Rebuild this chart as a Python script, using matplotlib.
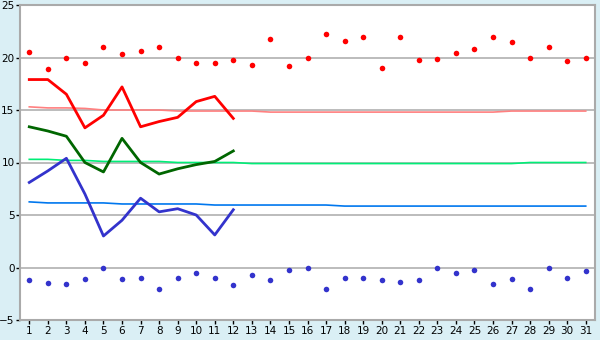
import matplotlib.pyplot as plt

days = list(range(1, 32))
months = list(range(1, 13))

# daily records
rec_max = [20.5, 18.9, 20.0, 19.5, 21.0, 20.3, 20.6, 21.0, 20.0, 19.5,
           19.5, 19.8, 19.3, 21.8, 19.2, 20.0, 22.2, 21.6, 22.0, 19.0,
           22.0, 19.8, 19.9, 20.4, 20.8, 22.0, 21.5, 20.0, 21.0, 19.7, 20.0]
rec_min = [-1.2, -1.5, -1.6, -1.1, 0.0, -1.1, -1.0, -2.0, -1.0, -0.5,
           -1.0, -1.7, -0.7, -1.2, -0.2, 0.0, -2.0, -1.0, -1.0, -1.2,
           -1.4, -1.2, 0.0, -0.5, -0.2, -1.6, -1.1, -2.0, 0.0, -1.0, -0.3]

# monthly series
t_max = [17.9, 17.9, 16.5, 13.3, 14.5, 17.2, 13.4, 13.9, 14.3, 15.8, 16.3, 14.2]
t_mean = [13.4, 13.0, 12.5, 10.0, 9.1, 12.3, 10.0, 8.9, 9.4, 9.8, 10.1, 11.1]
t_min = [8.1, 9.2, 10.4, 7.0, 3.0, 4.5, 6.6, 5.3, 5.6, 5.0, 3.1, 5.5]

# normals
norm_max = [15.3, 15.2, 15.2, 15.15, 15.0, 15.0, 15.0, 15.0, 14.9, 14.9,
            14.9, 14.9, 14.9, 14.8, 14.8, 14.8, 14.8, 14.8, 14.8, 14.8,
            14.8, 14.8, 14.8, 14.8, 14.8, 14.8, 14.9, 14.9, 14.9, 14.9, 14.9]
norm_mean = [10.3, 10.3, 10.2, 10.2, 10.1, 10.1, 10.1, 10.1, 10.0, 10.0,
             10.0, 10.0, 9.9, 9.9, 9.9, 9.9, 9.9, 9.9, 9.9, 9.9,
             9.9, 9.9, 9.9, 9.9, 9.9, 9.9, 9.9, 10.0, 10.0, 10.0, 10.0]
norm_min = [6.25, 6.15, 6.15, 6.15, 6.15, 6.05, 6.05, 6.05, 6.05, 6.05,
            5.95, 5.95, 5.95, 5.95, 5.95, 5.95, 5.95, 5.85, 5.85, 5.85,
            5.85, 5.85, 5.85, 5.85, 5.85, 5.85, 5.85, 5.85, 5.85, 5.85, 5.85]

fig = plt.figure(figsize=(6, 3.4), dpi=100, facecolor='#daeff5')
ax = fig.add_axes([20/600, 1-320/340, 575/600, 315/340])
ax.set_facecolor('white')

for v in range(-5, 26, 5):
    ax.axhline(v, color='#aaaaaa', lw=1.1, zorder=1)

ax.plot(days, norm_max, color='#ff8080', lw=1.2, zorder=2)
ax.plot(days, norm_mean, color='#00ee77', lw=1.2, zorder=2)
ax.plot(days, norm_min, color='#0077ee', lw=1.2, zorder=2)

ax.plot(months, t_max, color='#ff0000', lw=2, zorder=3)
ax.plot(months, t_mean, color='#006600', lw=2, zorder=3)
ax.plot(months, t_min, color='#3333cc', lw=2, zorder=3)

ax.plot(days, rec_max, 'o', color='#ff0000', ms=4, mew=0, zorder=4)
ax.plot(days, rec_min, 'o', color='#3333cc', ms=4, mew=0, zorder=4)

ax.set_xlim(0.5, 31.5)
ax.set_ylim(-5, 25)
ax.set_xticks(days)
ax.set_yticks(range(-5, 26, 5))
ax.tick_params(axis='both', labelsize=7.5, length=3, width=1, color='black', pad=1)
for s in ax.spines.values():
    s.set_color('#aaaaaa')
    s.set_linewidth(1.5)

plt.savefig('out.png', dpi=100, facecolor=fig.get_facecolor())
